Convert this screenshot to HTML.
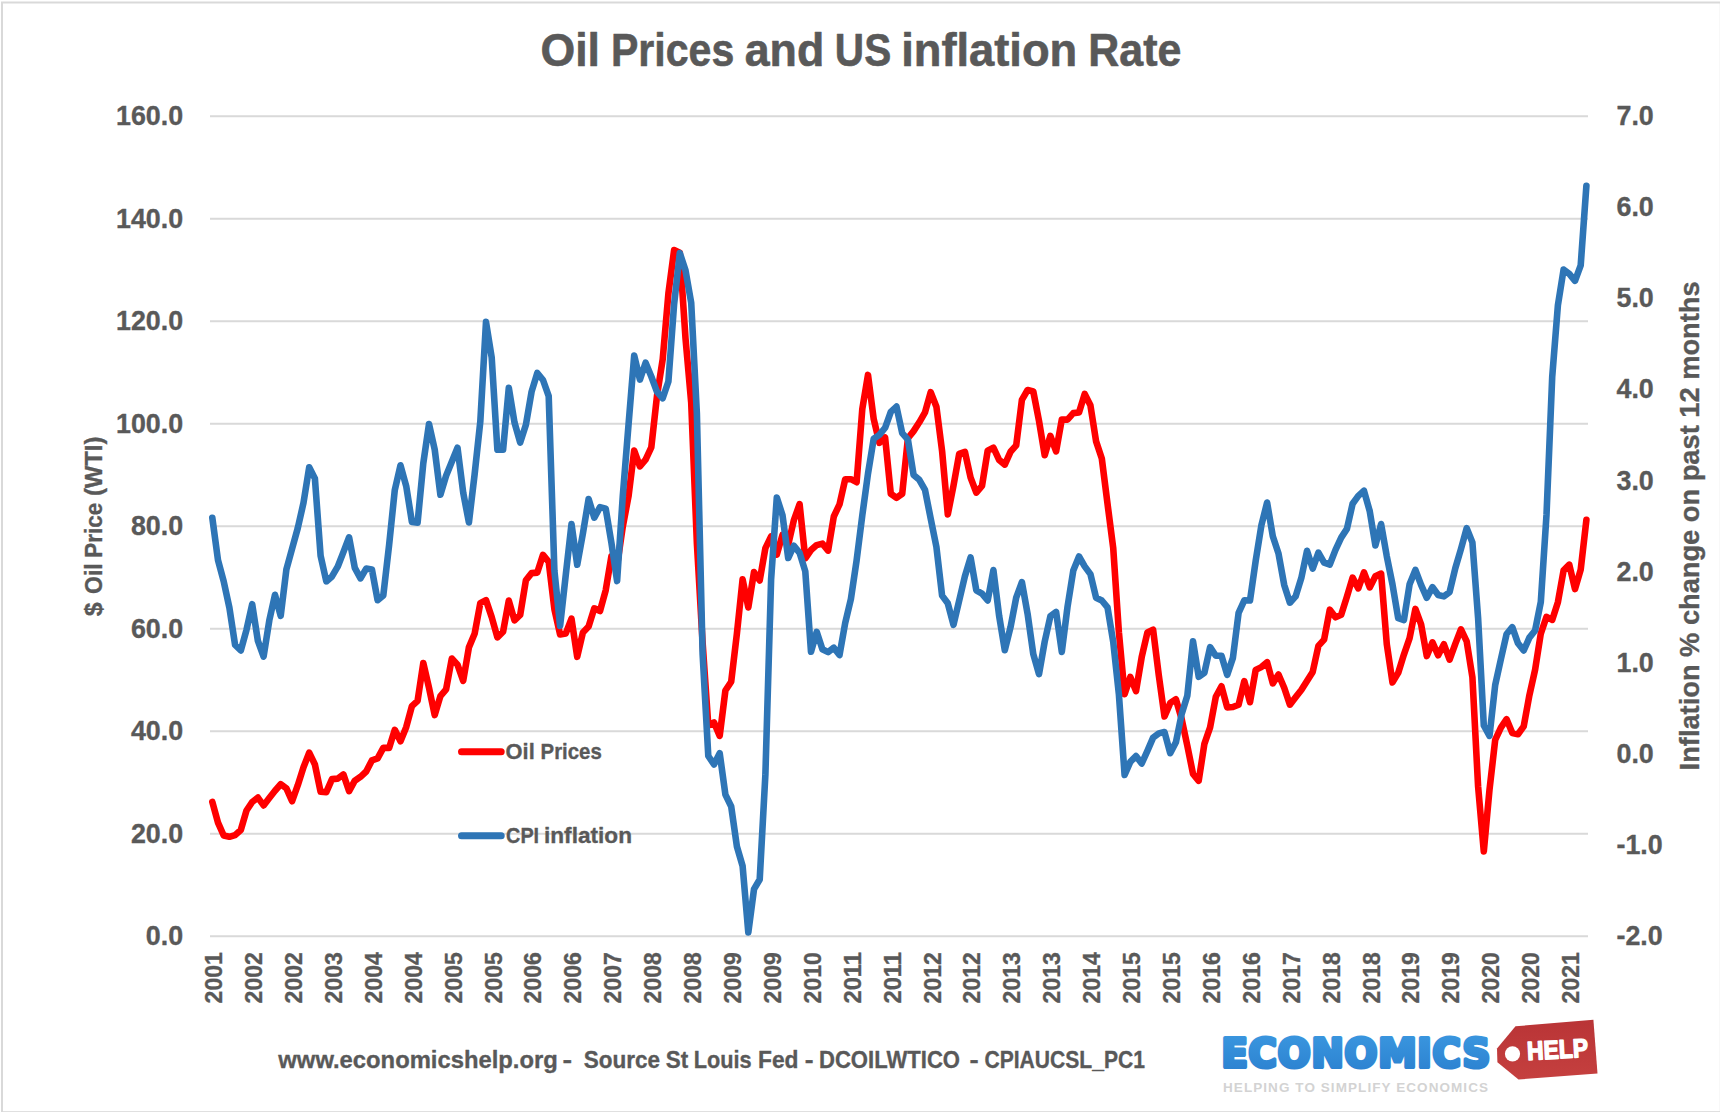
<!DOCTYPE html>
<html><head><meta charset="utf-8"><title>Oil Prices and US inflation Rate</title>
<style>
html,body{margin:0;padding:0;background:#fff;}
body{width:1720px;height:1112px;overflow:hidden;}
svg{display:block;}
text{font-family:'Liberation Sans', Arial, sans-serif;font-weight:bold;fill:#595959;}
.tb{stroke:#595959;stroke-width:0.6px;stroke-linejoin:round;}
.sb{stroke:#595959;stroke-width:0.35px;stroke-linejoin:round;}
</style></head><body>
<svg width="1720" height="1112" viewBox="0 0 1720 1112">
<rect x="0" y="0" width="1720" height="1112" fill="#ffffff"/>
<rect x="2" y="2.5" width="1718.8" height="1109.7" fill="none" stroke="#d9d9d9" stroke-width="2"/>
<text x="540.47" y="65.9" font-size="46.5" textLength="59.49" lengthAdjust="spacingAndGlyphs" class="tb">Oil</text>
<text x="610.95" y="65.9" font-size="46.5" textLength="123.33" lengthAdjust="spacingAndGlyphs" class="tb">Prices</text>
<text x="744.69" y="65.9" font-size="46.5" textLength="79.56" lengthAdjust="spacingAndGlyphs" class="tb">and</text>
<text x="834.87" y="65.9" font-size="46.5" textLength="56.32" lengthAdjust="spacingAndGlyphs" class="tb">US</text>
<text x="901.14" y="65.9" font-size="46.5" textLength="176.17" lengthAdjust="spacingAndGlyphs" class="tb">inflation</text>
<text x="1088.33" y="65.9" font-size="46.5" textLength="93.14" lengthAdjust="spacingAndGlyphs" class="tb">Rate</text>
<g stroke="#d9d9d9" stroke-width="2">
<line x1="210" y1="936.2" x2="1588" y2="936.2"/>
<line x1="210" y1="833.7" x2="1588" y2="833.7"/>
<line x1="210" y1="731.2" x2="1588" y2="731.2"/>
<line x1="210" y1="628.7" x2="1588" y2="628.7"/>
<line x1="210" y1="526.2" x2="1588" y2="526.2"/>
<line x1="210" y1="423.7" x2="1588" y2="423.7"/>
<line x1="210" y1="321.2" x2="1588" y2="321.2"/>
<line x1="210" y1="218.7" x2="1588" y2="218.7"/>
<line x1="210" y1="116.2" x2="1588" y2="116.2"/>
</g>
<text x="183.1" y="945.1" font-size="27.4" class="sb" text-anchor="end" textLength="37.29" lengthAdjust="spacingAndGlyphs">0.0</text>
<text x="183.1" y="842.6" font-size="27.4" class="sb" text-anchor="end" textLength="52.2" lengthAdjust="spacingAndGlyphs">20.0</text>
<text x="183.1" y="740.1" font-size="27.4" class="sb" text-anchor="end" textLength="52.2" lengthAdjust="spacingAndGlyphs">40.0</text>
<text x="183.1" y="637.6" font-size="27.4" class="sb" text-anchor="end" textLength="52.2" lengthAdjust="spacingAndGlyphs">60.0</text>
<text x="183.1" y="535.1" font-size="27.4" class="sb" text-anchor="end" textLength="52.2" lengthAdjust="spacingAndGlyphs">80.0</text>
<text x="183.1" y="432.6" font-size="27.4" class="sb" text-anchor="end" textLength="67.12" lengthAdjust="spacingAndGlyphs">100.0</text>
<text x="183.1" y="330.1" font-size="27.4" class="sb" text-anchor="end" textLength="67.12" lengthAdjust="spacingAndGlyphs">120.0</text>
<text x="183.1" y="227.6" font-size="27.4" class="sb" text-anchor="end" textLength="67.12" lengthAdjust="spacingAndGlyphs">140.0</text>
<text x="183.1" y="125.1" font-size="27.4" class="sb" text-anchor="end" textLength="67.12" lengthAdjust="spacingAndGlyphs">160.0</text>
<text x="1616.5" y="945.1" font-size="27.4" class="sb" textLength="46.22" lengthAdjust="spacingAndGlyphs">-2.0</text>
<text x="1616.5" y="854.0" font-size="27.4" class="sb" textLength="46.22" lengthAdjust="spacingAndGlyphs">-1.0</text>
<text x="1616.5" y="762.9" font-size="27.4" class="sb" textLength="37.29" lengthAdjust="spacingAndGlyphs">0.0</text>
<text x="1616.5" y="671.8" font-size="27.4" class="sb" textLength="37.29" lengthAdjust="spacingAndGlyphs">1.0</text>
<text x="1616.5" y="580.7" font-size="27.4" class="sb" textLength="37.29" lengthAdjust="spacingAndGlyphs">2.0</text>
<text x="1616.5" y="489.5" font-size="27.4" class="sb" textLength="37.29" lengthAdjust="spacingAndGlyphs">3.0</text>
<text x="1616.5" y="398.4" font-size="27.4" class="sb" textLength="37.29" lengthAdjust="spacingAndGlyphs">4.0</text>
<text x="1616.5" y="307.3" font-size="27.4" class="sb" textLength="37.29" lengthAdjust="spacingAndGlyphs">5.0</text>
<text x="1616.5" y="216.2" font-size="27.4" class="sb" textLength="37.29" lengthAdjust="spacingAndGlyphs">6.0</text>
<text x="1616.5" y="125.1" font-size="27.4" class="sb" textLength="37.29" lengthAdjust="spacingAndGlyphs">7.0</text>
<text transform="translate(222.1,952.2) rotate(-90)" font-size="23.8" class="sb" text-anchor="end" textLength="51.2" lengthAdjust="spacingAndGlyphs">2001</text>
<text transform="translate(262.0,952.2) rotate(-90)" font-size="23.8" class="sb" text-anchor="end" textLength="51.2" lengthAdjust="spacingAndGlyphs">2002</text>
<text transform="translate(301.9,952.2) rotate(-90)" font-size="23.8" class="sb" text-anchor="end" textLength="51.2" lengthAdjust="spacingAndGlyphs">2002</text>
<text transform="translate(341.8,952.2) rotate(-90)" font-size="23.8" class="sb" text-anchor="end" textLength="51.2" lengthAdjust="spacingAndGlyphs">2003</text>
<text transform="translate(381.7,952.2) rotate(-90)" font-size="23.8" class="sb" text-anchor="end" textLength="51.2" lengthAdjust="spacingAndGlyphs">2004</text>
<text transform="translate(421.7,952.2) rotate(-90)" font-size="23.8" class="sb" text-anchor="end" textLength="51.2" lengthAdjust="spacingAndGlyphs">2004</text>
<text transform="translate(461.6,952.2) rotate(-90)" font-size="23.8" class="sb" text-anchor="end" textLength="51.2" lengthAdjust="spacingAndGlyphs">2005</text>
<text transform="translate(501.5,952.2) rotate(-90)" font-size="23.8" class="sb" text-anchor="end" textLength="51.2" lengthAdjust="spacingAndGlyphs">2005</text>
<text transform="translate(541.4,952.2) rotate(-90)" font-size="23.8" class="sb" text-anchor="end" textLength="51.2" lengthAdjust="spacingAndGlyphs">2006</text>
<text transform="translate(581.3,952.2) rotate(-90)" font-size="23.8" class="sb" text-anchor="end" textLength="51.2" lengthAdjust="spacingAndGlyphs">2006</text>
<text transform="translate(621.2,952.2) rotate(-90)" font-size="23.8" class="sb" text-anchor="end" textLength="51.2" lengthAdjust="spacingAndGlyphs">2007</text>
<text transform="translate(661.1,952.2) rotate(-90)" font-size="23.8" class="sb" text-anchor="end" textLength="51.2" lengthAdjust="spacingAndGlyphs">2008</text>
<text transform="translate(701.0,952.2) rotate(-90)" font-size="23.8" class="sb" text-anchor="end" textLength="51.2" lengthAdjust="spacingAndGlyphs">2008</text>
<text transform="translate(741.0,952.2) rotate(-90)" font-size="23.8" class="sb" text-anchor="end" textLength="51.2" lengthAdjust="spacingAndGlyphs">2009</text>
<text transform="translate(780.9,952.2) rotate(-90)" font-size="23.8" class="sb" text-anchor="end" textLength="51.2" lengthAdjust="spacingAndGlyphs">2009</text>
<text transform="translate(820.8,952.2) rotate(-90)" font-size="23.8" class="sb" text-anchor="end" textLength="51.2" lengthAdjust="spacingAndGlyphs">2010</text>
<text transform="translate(860.7,952.2) rotate(-90)" font-size="23.8" class="sb" text-anchor="end" textLength="51.2" lengthAdjust="spacingAndGlyphs">2011</text>
<text transform="translate(900.6,952.2) rotate(-90)" font-size="23.8" class="sb" text-anchor="end" textLength="51.2" lengthAdjust="spacingAndGlyphs">2011</text>
<text transform="translate(940.5,952.2) rotate(-90)" font-size="23.8" class="sb" text-anchor="end" textLength="51.2" lengthAdjust="spacingAndGlyphs">2012</text>
<text transform="translate(980.4,952.2) rotate(-90)" font-size="23.8" class="sb" text-anchor="end" textLength="51.2" lengthAdjust="spacingAndGlyphs">2012</text>
<text transform="translate(1020.3,952.2) rotate(-90)" font-size="23.8" class="sb" text-anchor="end" textLength="51.2" lengthAdjust="spacingAndGlyphs">2013</text>
<text transform="translate(1060.2,952.2) rotate(-90)" font-size="23.8" class="sb" text-anchor="end" textLength="51.2" lengthAdjust="spacingAndGlyphs">2013</text>
<text transform="translate(1100.2,952.2) rotate(-90)" font-size="23.8" class="sb" text-anchor="end" textLength="51.2" lengthAdjust="spacingAndGlyphs">2014</text>
<text transform="translate(1140.1,952.2) rotate(-90)" font-size="23.8" class="sb" text-anchor="end" textLength="51.2" lengthAdjust="spacingAndGlyphs">2015</text>
<text transform="translate(1180.0,952.2) rotate(-90)" font-size="23.8" class="sb" text-anchor="end" textLength="51.2" lengthAdjust="spacingAndGlyphs">2015</text>
<text transform="translate(1219.9,952.2) rotate(-90)" font-size="23.8" class="sb" text-anchor="end" textLength="51.2" lengthAdjust="spacingAndGlyphs">2016</text>
<text transform="translate(1259.8,952.2) rotate(-90)" font-size="23.8" class="sb" text-anchor="end" textLength="51.2" lengthAdjust="spacingAndGlyphs">2016</text>
<text transform="translate(1299.7,952.2) rotate(-90)" font-size="23.8" class="sb" text-anchor="end" textLength="51.2" lengthAdjust="spacingAndGlyphs">2017</text>
<text transform="translate(1339.6,952.2) rotate(-90)" font-size="23.8" class="sb" text-anchor="end" textLength="51.2" lengthAdjust="spacingAndGlyphs">2018</text>
<text transform="translate(1379.5,952.2) rotate(-90)" font-size="23.8" class="sb" text-anchor="end" textLength="51.2" lengthAdjust="spacingAndGlyphs">2018</text>
<text transform="translate(1419.4,952.2) rotate(-90)" font-size="23.8" class="sb" text-anchor="end" textLength="51.2" lengthAdjust="spacingAndGlyphs">2019</text>
<text transform="translate(1459.4,952.2) rotate(-90)" font-size="23.8" class="sb" text-anchor="end" textLength="51.2" lengthAdjust="spacingAndGlyphs">2019</text>
<text transform="translate(1499.3,952.2) rotate(-90)" font-size="23.8" class="sb" text-anchor="end" textLength="51.2" lengthAdjust="spacingAndGlyphs">2020</text>
<text transform="translate(1539.2,952.2) rotate(-90)" font-size="23.8" class="sb" text-anchor="end" textLength="51.2" lengthAdjust="spacingAndGlyphs">2020</text>
<text transform="translate(1579.1,952.2) rotate(-90)" font-size="23.8" class="sb" text-anchor="end" textLength="51.2" lengthAdjust="spacingAndGlyphs">2021</text>
<text transform="translate(102,0) rotate(-90)" x="-616.23" y="0" font-size="24" textLength="13.88" lengthAdjust="spacingAndGlyphs" class="sb">$</text>
<text transform="translate(102,0) rotate(-90)" x="-593.94" y="0" font-size="24" textLength="30.56" lengthAdjust="spacingAndGlyphs" class="sb">Oil</text>
<text transform="translate(102,0) rotate(-90)" x="-557.70" y="0" font-size="24" textLength="54.87" lengthAdjust="spacingAndGlyphs" class="sb">Price</text>
<text transform="translate(102,0) rotate(-90)" x="-496.08" y="0" font-size="24" textLength="59.37" lengthAdjust="spacingAndGlyphs" class="sb">(WTI)</text>
<text transform="translate(1699.3,0) rotate(-90)" x="-770.42" y="0" font-size="28" textLength="488.94" lengthAdjust="spacingAndGlyphs" class="sb" xml:space="preserve">Inflation % change on past 12 months</text>
<path d="M212.3,801.9 L218.0,822.6 L223.7,835.5 L229.4,836.8 L235.1,835.1 L240.8,830.0 L246.5,810.5 L252.2,802.0 L257.9,797.6 L263.6,805.4 L269.3,798.0 L275.0,790.7 L280.7,784.2 L286.4,788.4 L292.1,801.2 L297.8,785.2 L303.5,767.3 L309.2,752.6 L314.9,764.5 L320.6,791.8 L326.3,792.1 L332.0,779.1 L337.7,778.6 L343.4,774.4 L349.1,791.1 L354.8,780.7 L360.5,776.8 L366.2,771.5 L371.9,760.4 L377.6,758.4 L383.3,747.9 L389.1,747.9 L394.8,729.8 L400.5,741.3 L406.2,727.2 L411.9,706.1 L417.6,700.8 L423.3,663.1 L429.0,687.8 L434.7,715.1 L440.4,696.1 L446.1,689.4 L451.8,658.5 L457.5,664.7 L463.2,680.8 L468.9,647.4 L474.6,633.8 L480.3,603.1 L486.0,600.1 L491.7,617.1 L497.4,637.3 L503.1,631.7 L508.8,600.6 L514.5,620.3 L520.2,614.9 L525.9,580.3 L531.6,573.1 L537.3,572.6 L543.0,554.8 L548.7,561.9 L554.4,609.2 L560.1,634.4 L565.8,633.4 L571.5,618.7 L577.2,656.8 L582.9,632.4 L588.6,626.4 L594.3,608.3 L600.0,611.0 L605.7,590.3 L611.4,556.3 L617.1,565.4 L622.8,526.6 L628.5,496.5 L634.2,450.5 L639.9,466.3 L645.6,459.7 L651.3,447.3 L657.0,395.8 L662.7,359.2 L668.4,293.5 L674.1,250.1 L679.8,252.7 L685.5,338.3 L691.2,402.6 L696.9,543.6 L702.6,642.5 L708.3,725.5 L714.0,722.4 L719.7,735.9 L725.4,690.5 L731.2,681.7 L736.9,633.7 L742.6,579.3 L748.3,607.4 L754.0,572.1 L759.7,580.5 L765.4,548.1 L771.1,536.5 L776.8,554.5 L782.5,534.8 L788.2,544.7 L793.9,520.0 L799.6,504.2 L805.3,558.3 L811.0,550.1 L816.7,545.1 L822.4,543.6 L828.1,550.6 L833.8,516.5 L839.5,504.4 L845.2,479.3 L850.9,479.2 L856.6,482.2 L862.3,409.0 L868.0,374.9 L873.7,419.1 L879.4,442.9 L885.1,437.5 L890.8,493.8 L896.5,497.9 L902.2,493.8 L907.9,438.3 L913.6,431.1 L919.3,422.3 L925.0,412.4 L930.7,392.1 L936.4,406.7 L942.1,451.1 L947.8,514.4 L953.5,485.7 L959.2,453.8 L964.9,451.8 L970.6,477.6 L976.3,492.7 L982.0,485.9 L987.7,450.6 L993.4,447.7 L999.1,459.9 L1004.8,464.6 L1010.5,451.8 L1016.2,445.4 L1021.9,399.8 L1027.6,390.0 L1033.3,391.5 L1039.0,420.9 L1044.7,455.2 L1050.4,435.8 L1056.1,451.3 L1061.8,419.5 L1067.5,419.6 L1073.3,413.1 L1079.0,412.5 L1084.7,394.0 L1090.4,405.3 L1096.1,441.4 L1101.8,458.5 L1107.5,503.7 L1113.2,547.8 L1118.9,632.3 L1124.6,694.2 L1130.3,677.0 L1136.0,691.1 L1141.7,657.1 L1147.4,632.4 L1153.1,629.6 L1158.8,675.3 L1164.5,716.5 L1170.2,703.1 L1175.9,699.3 L1181.6,718.7 L1187.3,745.6 L1193.0,773.8 L1198.7,780.8 L1204.4,743.8 L1210.1,727.4 L1215.8,696.8 L1221.5,686.3 L1227.2,707.4 L1232.9,707.0 L1238.6,704.7 L1244.3,681.1 L1250.0,702.2 L1255.7,669.9 L1261.4,667.1 L1267.1,662.2 L1272.8,683.4 L1278.5,674.5 L1284.2,687.7 L1289.9,704.7 L1295.6,697.2 L1301.3,690.0 L1307.0,680.9 L1312.7,671.9 L1318.4,645.9 L1324.1,639.6 L1329.8,609.7 L1335.5,617.3 L1341.2,614.7 L1346.9,596.7 L1352.6,577.6 L1358.3,588.4 L1364.0,572.4 L1369.7,587.4 L1375.4,576.3 L1381.1,573.6 L1386.8,644.3 L1392.5,682.4 L1398.2,672.9 L1403.9,654.6 L1409.6,638.2 L1415.4,608.9 L1421.1,624.4 L1426.8,656.1 L1432.5,642.3 L1438.2,655.3 L1443.9,644.3 L1449.6,659.7 L1455.3,643.9 L1461.0,629.3 L1466.7,641.4 L1472.4,677.2 L1478.1,786.5 L1483.8,851.4 L1489.5,789.8 L1495.2,739.9 L1500.9,727.6 L1506.6,719.2 L1512.3,733.1 L1518.0,734.3 L1523.7,726.4 L1529.4,695.2 L1535.1,669.7 L1540.8,633.6 L1546.5,616.8 L1552.2,619.9 L1557.9,602.2 L1563.6,570.4 L1569.3,564.7 L1575.0,589.1 L1580.7,569.6 L1586.4,519.9" fill="none" stroke="#ff0000" stroke-width="6.6" stroke-linejoin="round" stroke-linecap="round"/>
<path d="M212.3,517.8 L218.0,560.1 L223.7,581.4 L229.4,607.8 L235.1,645.0 L240.8,650.5 L246.5,629.8 L252.2,604.2 L257.9,640.9 L263.6,656.6 L269.3,620.4 L275.0,594.8 L280.7,615.9 L286.4,569.3 L292.1,548.6 L297.8,528.0 L303.5,502.8 L309.2,467.3 L314.9,478.4 L320.6,555.8 L326.3,581.4 L332.0,576.4 L337.7,566.7 L343.4,552.1 L349.1,537.3 L354.8,567.9 L360.5,578.3 L366.2,568.6 L371.9,569.4 L377.6,600.2 L383.3,595.4 L389.1,545.1 L394.8,489.9 L400.5,465.3 L406.2,486.1 L411.9,521.9 L417.6,522.6 L423.3,463.2 L429.0,424.0 L434.7,449.5 L440.4,494.8 L446.1,475.8 L451.8,461.8 L457.5,447.7 L463.2,492.6 L468.9,522.5 L474.6,474.5 L480.3,421.7 L486.0,321.9 L491.7,357.6 L497.4,449.8 L503.1,449.8 L508.8,387.8 L514.5,422.5 L520.2,442.6 L525.9,424.7 L531.6,391.6 L537.3,373.0 L543.0,380.0 L548.7,396.2 L554.4,570.7 L560.1,625.9 L565.8,574.6 L571.5,524.0 L577.2,564.8 L582.9,533.5 L588.6,499.0 L594.3,517.7 L600.0,507.1 L605.7,508.6 L611.4,542.8 L617.1,581.1 L622.8,495.8 L628.5,425.0 L634.2,355.5 L639.9,379.6 L645.6,362.7 L651.3,376.5 L657.0,391.8 L662.7,398.3 L668.4,381.5 L674.1,304.3 L679.8,253.0 L685.5,270.4 L691.2,302.7 L696.9,414.0 L702.6,653.8 L708.3,756.0 L714.0,764.4 L719.7,753.2 L725.4,794.6 L731.2,806.5 L736.9,846.5 L742.6,866.0 L748.3,932.5 L754.0,889.2 L759.7,879.5 L765.4,774.4 L771.1,579.5 L776.8,497.6 L782.5,515.2 L788.2,558.0 L793.9,545.7 L799.6,552.9 L805.3,571.4 L811.0,651.8 L816.7,631.8 L822.4,649.2 L828.1,652.1 L833.8,647.7 L839.5,655.1 L845.2,623.0 L850.9,599.0 L856.6,560.4 L862.3,515.4 L868.0,473.6 L873.7,438.8 L879.4,434.9 L885.1,427.8 L890.8,411.9 L896.5,406.6 L902.2,433.1 L907.9,439.6 L913.6,475.0 L919.3,479.8 L925.0,489.9 L930.7,518.6 L936.4,546.9 L942.1,595.6 L947.8,603.3 L953.5,624.8 L959.2,600.4 L964.9,576.3 L970.6,557.5 L976.3,590.3 L982.0,593.6 L987.7,600.5 L993.4,570.1 L999.1,615.6 L1004.8,650.2 L1010.5,627.3 L1016.2,597.6 L1021.9,582.2 L1027.6,613.8 L1033.3,654.2 L1039.0,674.1 L1044.7,641.6 L1050.4,616.1 L1056.1,612.0 L1061.8,651.9 L1067.5,607.0 L1073.3,570.4 L1079.0,556.5 L1084.7,566.4 L1090.4,574.1 L1096.1,597.7 L1101.8,600.5 L1107.5,607.3 L1113.2,641.7 L1118.9,694.5 L1124.6,774.9 L1130.3,761.9 L1136.0,756.0 L1141.7,763.5 L1147.4,750.8 L1153.1,737.6 L1158.8,733.4 L1164.5,732.0 L1170.2,753.2 L1175.9,742.3 L1181.6,714.3 L1187.3,695.8 L1193.0,641.2 L1198.7,676.8 L1204.4,672.7 L1210.1,647.1 L1215.8,655.8 L1221.5,655.7 L1227.2,674.9 L1232.9,657.9 L1238.6,612.8 L1244.3,600.4 L1250.0,600.5 L1255.7,560.8 L1261.4,525.3 L1267.1,502.5 L1272.8,536.2 L1278.5,553.5 L1284.2,584.9 L1289.9,602.7 L1295.6,596.4 L1301.3,578.1 L1307.0,550.8 L1312.7,568.6 L1318.4,552.6 L1324.1,562.6 L1329.8,564.5 L1335.5,549.9 L1341.2,537.6 L1346.9,528.9 L1352.6,503.8 L1358.3,495.9 L1364.0,490.8 L1369.7,511.0 L1375.4,545.5 L1381.1,524.0 L1386.8,556.3 L1392.5,584.5 L1398.2,618.2 L1403.9,620.0 L1409.6,584.2 L1415.4,569.9 L1421.1,584.9 L1426.8,597.8 L1432.5,587.1 L1438.2,595.0 L1443.9,596.4 L1449.6,592.1 L1455.3,568.3 L1461.0,548.9 L1466.7,528.1 L1472.4,542.4 L1478.1,617.9 L1483.8,725.5 L1489.5,735.9 L1495.2,685.0 L1500.9,659.1 L1506.6,634.0 L1512.3,627.2 L1518.0,643.3 L1523.7,650.5 L1529.4,637.6 L1535.1,630.5 L1540.8,602.0 L1546.5,514.9 L1552.2,377.1 L1557.9,305.2 L1563.6,269.5 L1569.3,273.9 L1575.0,280.8 L1580.7,265.3 L1586.4,185.7" fill="none" stroke="#2e75b6" stroke-width="6.6" stroke-linejoin="round" stroke-linecap="round"/>
<line x1="461.5" y1="751.8" x2="501.2" y2="751.8" stroke="#ff0000" stroke-width="7" stroke-linecap="round"/>
<line x1="461.5" y1="835.8" x2="501.2" y2="835.8" stroke="#2e75b6" stroke-width="7" stroke-linecap="round"/>
<text x="505.60" y="759.0" font-size="22.6" textLength="29.14" lengthAdjust="spacingAndGlyphs" class="sb">Oil</text>
<text x="540.54" y="759.0" font-size="22.6" textLength="61.20" lengthAdjust="spacingAndGlyphs" class="sb">Prices</text>
<text x="506.09" y="842.8" font-size="22.6" textLength="33.04" lengthAdjust="spacingAndGlyphs" class="sb">CPI</text>
<text x="544.02" y="842.8" font-size="22.6" textLength="87.98" lengthAdjust="spacingAndGlyphs" class="sb">inflation</text>
<text x="278.37" y="1067.8" font-size="24.8" textLength="279.42" lengthAdjust="spacingAndGlyphs" class="sb">www.economicshelp.org</text>
<text x="562.48" y="1067.8" font-size="24.8" textLength="9.57" lengthAdjust="spacingAndGlyphs" class="sb">-</text>
<text x="583.65" y="1067.8" font-size="24.8" textLength="76.32" lengthAdjust="spacingAndGlyphs" class="sb">Source</text>
<text x="665.85" y="1067.8" font-size="24.8" textLength="22.42" lengthAdjust="spacingAndGlyphs" class="sb">St</text>
<text x="693.85" y="1067.8" font-size="24.8" textLength="57.84" lengthAdjust="spacingAndGlyphs" class="sb">Louis</text>
<text x="757.98" y="1067.8" font-size="24.8" textLength="40.53" lengthAdjust="spacingAndGlyphs" class="sb">Fed</text>
<text x="804.67" y="1067.8" font-size="24.8" textLength="8.79" lengthAdjust="spacingAndGlyphs" class="sb">-</text>
<text x="818.94" y="1067.8" font-size="24.8" textLength="141.08" lengthAdjust="spacingAndGlyphs" class="sb">DCOILWTICO</text>
<text x="969.62" y="1067.8" font-size="24.8" textLength="9.18" lengthAdjust="spacingAndGlyphs" class="sb">-</text>
<text x="984.43" y="1067.8" font-size="24.8" textLength="160.55" lengthAdjust="spacingAndGlyphs" class="sb">CPIAUCSL_PC1</text>
<defs>
<linearGradient id="lb" x1="0" y1="0" x2="0" y2="1"><stop offset="0" stop-color="#3b98e0"/><stop offset="1" stop-color="#2b80cf"/></linearGradient>
<linearGradient id="rt" x1="0" y1="0" x2="0" y2="1"><stop offset="0" stop-color="#b93436"/><stop offset="1" stop-color="#c5403f"/></linearGradient>
</defs>
<text x="1221.4" y="1066.8" font-size="38.5" textLength="268.8" lengthAdjust="spacing" style="fill:url(#lb);stroke:url(#lb);stroke-width:4;stroke-linejoin:round;font-family:'DejaVu Sans',sans-serif">ECONOMICS</text>
<polygon points="1515.5,1026.3 1593.4,1019.8 1597.5,1073.5 1518.5,1079.5 1497.4,1062.2 1497,1048.5" fill="url(#rt)"/>
<circle cx="1512.5" cy="1053.8" r="7.6" fill="#ffffff"/>
<text transform="translate(1527.6,1060) rotate(-3)" font-size="26" textLength="61" lengthAdjust="spacingAndGlyphs" style="fill:#ffffff;stroke:#ffffff;stroke-width:1.5;stroke-linejoin:round">HELP</text>
<text x="1223" y="1092" font-size="13.5" textLength="265" lengthAdjust="spacing" style="fill:#d3d3d3">HELPING TO SIMPLIFY ECONOMICS</text>
</svg>
</body></html>
